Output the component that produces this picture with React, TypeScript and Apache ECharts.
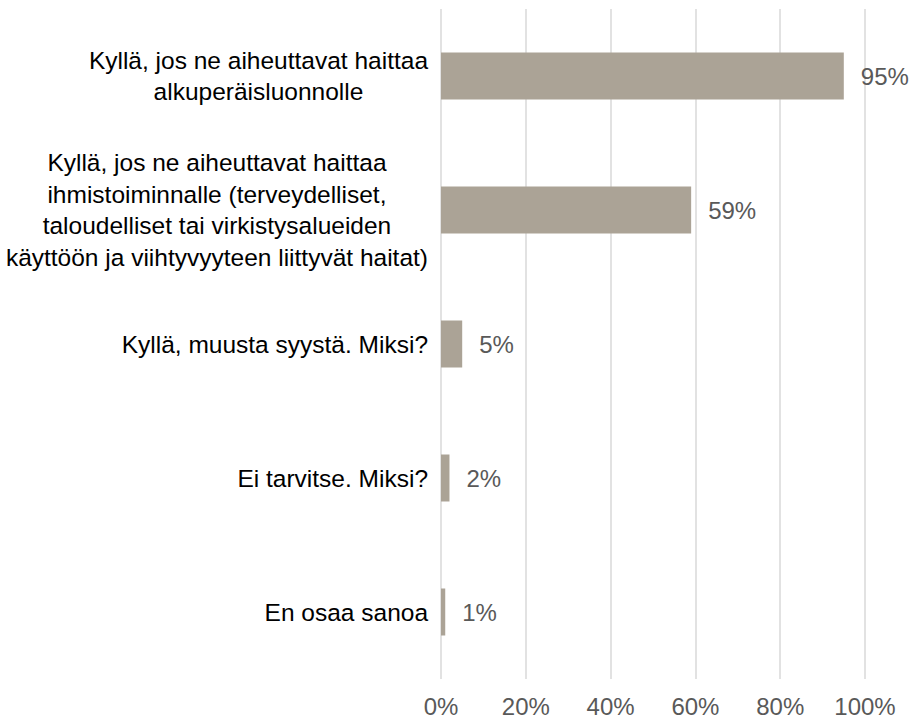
import React, { useEffect, useRef } from "react";
import * as echarts from "echarts";

const categories: string[] = [
  "Kyllä, jos ne aiheuttavat haittaa\nalkuperäisluonnolle",
  "Kyllä, jos ne aiheuttavat haittaa\nihmistoiminnalle (terveydelliset,\ntaloudelliset tai virkistysalueiden\nkäyttöön ja viihtyvyyteen liittyvät haitat)",
  "Kyllä, muusta syystä. Miksi?",
  "Ei tarvitse. Miksi?",
  "En osaa sanoa",
];
const values: number[] = [95, 59, 5, 2, 1];
const xTicks: number[] = [0, 20, 40, 60, 80, 100];

export default function App() {
  const ref = useRef<HTMLDivElement>(null);
  useEffect(() => {
    if (!ref.current) return;
    const chart = echarts.init(ref.current, undefined, { renderer: "svg" });
    const font = "'Liberation Sans', Arial, sans-serif";
    chart.setOption({
      animation: false,
      backgroundColor: "#ffffff",
      grid: {
        left: 441,
        right: 48,
        top: 9,
        bottom: 39,
        containLabel: false,
        outerBoundsMode: "none",
      },
      xAxis: {
        type: "value",
        min: xTicks[0],
        max: xTicks[xTicks.length - 1],
        interval: 20,
        axisLine: { show: false },
        axisTick: { show: false },
        splitLine: { show: true, lineStyle: { color: "#d9d9d9", width: 1.5 } },
        axisLabel: {
          formatter: "{value}%",
          color: "#595959",
          fontSize: 24,
          fontFamily: font,
          margin: 15,
        },
      },
      yAxis: {
        type: "category",
        inverse: true,
        data: categories,
        axisLine: { show: false },
        axisTick: { show: false },
        splitLine: { show: false },
        axisLabel: {
          margin: 13,
          align: "right",
          formatter: (v: string) =>
            v
              .split("\n")
              .map((l) => "{a|" + l + "}")
              .join("\n"),
          rich: {
            a: {
              align: "center",
              color: "#000000",
              fontSize: 24.5,
              fontFamily: font,
              lineHeight: 31.5,
            },
          },
        },
      },
      series: [
        {
          type: "bar",
          data: values,
          barWidth: 47,
          itemStyle: { color: "#aba396" },
          label: {
            show: true,
            position: "right",
            distance: 17,
            formatter: "{c}%",
            color: "#595959",
            fontSize: 24,
            fontFamily: font,
          },
        },
      ],
    });
    return () => chart.dispose();
  }, []);
  return (
    <div
      ref={ref}
      style={{ position: "absolute", left: 0, top: 0, width: 913, height: 718 }}
    />
  );
}
